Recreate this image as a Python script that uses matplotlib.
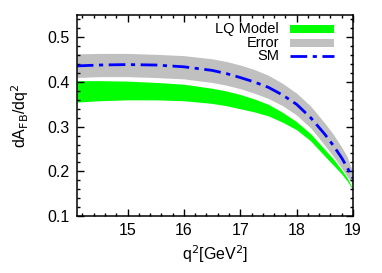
import matplotlib
matplotlib.use('Agg')
import matplotlib.pyplot as plt
from matplotlib.patches import Rectangle
from matplotlib.lines import Line2D
from matplotlib.ticker import MultipleLocator

plt.rcParams['font.family'] = ['Liberation Sans', 'DejaVu Sans']

# values
q2 = [14.1, 14.5, 15.0, 15.5, 16.0, 16.5, 16.75, 17.0, 17.25, 17.5, 17.75, 18.0, 18.25, 18.5, 18.65, 18.8, 18.9, 19.0]
sm = [0.436, 0.438, 0.439, 0.438, 0.434, 0.426, 0.419, 0.410, 0.400, 0.388, 0.371, 0.350, 0.320, 0.283, 0.258, 0.230, 0.208, 0.184]
err_hi = [0.463, 0.464, 0.464, 0.462, 0.459, 0.452, 0.446, 0.438, 0.428, 0.415, 0.397, 0.375, 0.346, 0.308, 0.283, 0.254, 0.232, 0.198]
err_lo = [0.410, 0.412, 0.412, 0.410, 0.407, 0.399, 0.393, 0.385, 0.375, 0.363, 0.347, 0.326, 0.297, 0.258, 0.234, 0.207, 0.188, 0.170]
lq_hi = [0.403, 0.403, 0.402, 0.399, 0.395, 0.386, 0.380, 0.372, 0.362, 0.350, 0.332, 0.311, 0.284, 0.249, 0.228, 0.203, 0.185, 0.160]
lq_lo = [0.355, 0.358, 0.360, 0.360, 0.358, 0.352, 0.347, 0.340, 0.333, 0.324, 0.310, 0.293, 0.268, 0.234, 0.214, 0.194, 0.178, 0.158]

green = '#00ff00'
grey = '#c0c0c0'
blue = '#0000ff'
smdash = (0, (6, 2, 1.5, 2))

fig = plt.figure(figsize=(3.82, 2.73), dpi=100)
ax = fig.add_axes([0.201, 0.209, 0.723, 0.736])

ax.fill_between(q2, err_lo, err_hi, color=grey, lw=0)
ax.fill_between(q2, lq_lo, lq_hi, color=green, lw=0)
ax.plot(q2, sm, color=blue, lw=2, linestyle=smdash)

ax.set_xlim(14.1, 19.0)
ax.set_ylim(0.1, 0.55)
ax.xaxis.set_major_locator(MultipleLocator(1))
ax.xaxis.set_minor_locator(MultipleLocator(0.2))
ax.yaxis.set_major_locator(MultipleLocator(0.1))
ax.yaxis.set_minor_locator(MultipleLocator(0.02))
ax.tick_params(which='both', direction='in', top=True, right=True, labelsize=11.5, width=1)
ax.tick_params(which='major', length=5, pad=5)
ax.tick_params(which='minor', length=2.5)
for s in ax.spines.values():
    s.set_linewidth(1.1)

ax.set_xlabel(r'q$^2$[GeV$^2$]', fontsize=11.5, labelpad=4)
ax.set_ylabel(r'dA$_{\rm FB}$/dq$^2$', fontsize=11.5, labelpad=12)

# legend, gnuplot style: text right aligned, sample on the right
rows = [('LQ Model', 'fill', green), ('Error', 'fill', grey), ('SM', 'line', blue)]
y0, dy = 0.929, 0.067
for i, (lab, kind, c) in enumerate(rows):
    y = y0 - i * dy
    ax.text(0.732, y, lab, transform=ax.transAxes, ha='right', va='center', fontsize=10.5)
    if kind == 'fill':
        ax.add_patch(Rectangle((0.772, y - 0.02), 0.159, 0.04, transform=ax.transAxes,
                               color=c, lw=0))
    else:
        ax.add_line(Line2D([0.772, 0.931], [y, y], transform=ax.transAxes, color=c,
                           lw=2, linestyle=smdash))

fig.savefig('out.png', dpi=100)
